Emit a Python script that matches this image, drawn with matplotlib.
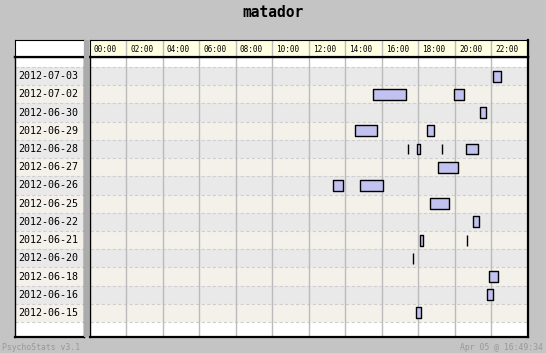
import matplotlib
matplotlib.use('Agg')
import matplotlib.pyplot as plt
from matplotlib.patches import Rectangle

# session log per day: start hour and length in hours (0 = single hit)
DATES = ['2012-07-03', '2012-07-02', '2012-06-30', '2012-06-29', '2012-06-28',
         '2012-06-27', '2012-06-26', '2012-06-25', '2012-06-22', '2012-06-21',
         '2012-06-20', '2012-06-18', '2012-06-16', '2012-06-15']
STARTS = [[22.08], [15.53, 19.96], [21.38], [14.54, 18.48],
          [17.45, 17.94, 19.31, 20.62], [19.09], [13.34, 14.82], [18.65],
          [21.00], [18.10, 20.67], [17.72], [21.88], [21.77], [17.88]]
LENGTHS = [[0.42], [1.77, 0.52], [0.33], [1.17, 0.35],
           [0.0, 0.13, 0.0, 0.62], [1.06], [0.51, 1.22], [1.01],
           [0.30], [0.13, 0.0], [0.0], [0.46], [0.33], [0.24]]
HOURS = list(range(0, 24, 2))
HOUR_LABELS = [f'{h:02d}:00' for h in HOURS]
TITLE = 'matador'
FOOT_LEFT = 'PsychoStats v3.1'
FOOT_RIGHT = 'Apr 05 @ 16:49:34'

W, H = 546, 353
BG = '#C4C4C4'
ROW_A = '#E9E9E9'
ROW_B = '#F3F1EA'
BAR = '#C2C2F0'
HEAD = '#FFFFE1'
MONO = 'DejaVu Sans Mono'


def box(x0, y0, x1, y1):
    """pixel box (top-left origin) -> figure fraction rect"""
    return [x0 / W, 1 - y1 / H, (x1 - x0) / W, (y1 - y0) / H]


fig = plt.figure(figsize=(W / 100, H / 100), dpi=100, facecolor=BG)

n = len(DATES)
top_pad, bot_pad = 0.55, 0.82
ylim = (n - 0.5 + bot_pad, -0.5 - top_pad)

# separator strip between labels and chart
fig.patches.append(Rectangle((84 / W, 1 - 337 / H), 5 / W, 297 / H,
                             transform=fig.transFigure, facecolor='#ABABAB',
                             edgecolor='none', zorder=0))

# ---- chart body
ax = fig.add_axes(box(89.5, 57, 528, 337))
ax.set_facecolor('white')
for i in range(n):
    ax.axhspan(i - 0.5, i + 0.5, color=ROW_A if i % 2 == 0 else ROW_B, lw=0, zorder=0)
    ax.axhline(i - 0.5, color='#CFCFCF', lw=0.8, ls=(0, (3, 2)), zorder=1)
ax.axhline(n - 0.5, color='#CFCFCF', lw=0.8, ls=(0, (3, 2)), zorder=1)
for h in HOURS[1:]:
    ax.axvline(h, color='#BBBBBB', lw=1.0, zorder=1)
for i in range(n):
    ax.broken_barh(list(zip(STARTS[i], LENGTHS[i])), (i - 0.3, 0.6),
                   facecolor=BAR, edgecolor='black', linewidth=1.0, zorder=3)
ax.set_xlim(0, 24)
ax.set_ylim(*ylim)
ax.set_xticks([])
ax.set_yticks([])
for s in ['top', 'bottom', 'right']:
    ax.spines[s].set_linewidth(1.6)
ax.spines['left'].set_linewidth(1.0)

# ---- label column
lx = fig.add_axes(box(15, 57, 84, 337))
lx.set_facecolor('white')
for i, d in enumerate(DATES):
    lx.axhspan(i - 0.5, i + 0.5, color=ROW_A if i % 2 == 0 else ROW_B, lw=0, zorder=0)
    lx.axhline(i - 0.5, color='#CFCFCF', lw=0.8, ls=(0, (3, 2)), zorder=1)
    lx.text(0.04, i, d, transform=lx.get_yaxis_transform(), ha='left', va='center',
            family=MONO, fontsize=7.2, color='black')
lx.axhline(n - 0.5, color='#CFCFCF', lw=0.8, ls=(0, (3, 2)), zorder=1)
lx.set_xlim(0, 1)
lx.set_ylim(*ylim)
lx.set_xticks([])
lx.set_yticks([])
lx.spines['top'].set_linewidth(1.6)
lx.spines['bottom'].set_linewidth(1.6)
lx.spines['left'].set_linewidth(1.0)
lx.spines['right'].set_linewidth(1.0)

# ---- header rows
hx = fig.add_axes(box(89.5, 40, 528, 57))
hx.set_facecolor(HEAD)
for h, lab in zip(HOURS, HOUR_LABELS):
    if h > 0:
        hx.axvline(h, color='#BBBBBB', lw=1.0)
    hx.text(h + 0.22, 0.45, lab, ha='left', va='center', family=MONO,
            fontsize=5.6, color='black')
hx.set_xlim(0, 24)
hx.set_ylim(0, 1)
hx.set_xticks([])
hx.set_yticks([])
hx.spines['right'].set_linewidth(1.6)
hx.spines['bottom'].set_linewidth(1.6)

cx = fig.add_axes(box(15, 40, 84, 57))
cx.set_facecolor('white')
cx.set_xticks([])
cx.set_yticks([])
cx.spines['bottom'].set_linewidth(1.6)

fig.text(0.5, 1 - 12.5 / H, TITLE, ha='center', va='center', family=MONO,
         fontweight='bold', fontsize=10.5, color='black')
fig.text(2.5 / W, 1 - 347.5 / H, FOOT_LEFT, ha='left', va='center', family=MONO,
         fontsize=5.9, color='#999999')
fig.text(543 / W, 1 - 347.5 / H, FOOT_RIGHT, ha='right', va='center', family=MONO,
         fontsize=5.9, color='#999999')

fig.savefig('out.png', dpi=100, facecolor=BG)
